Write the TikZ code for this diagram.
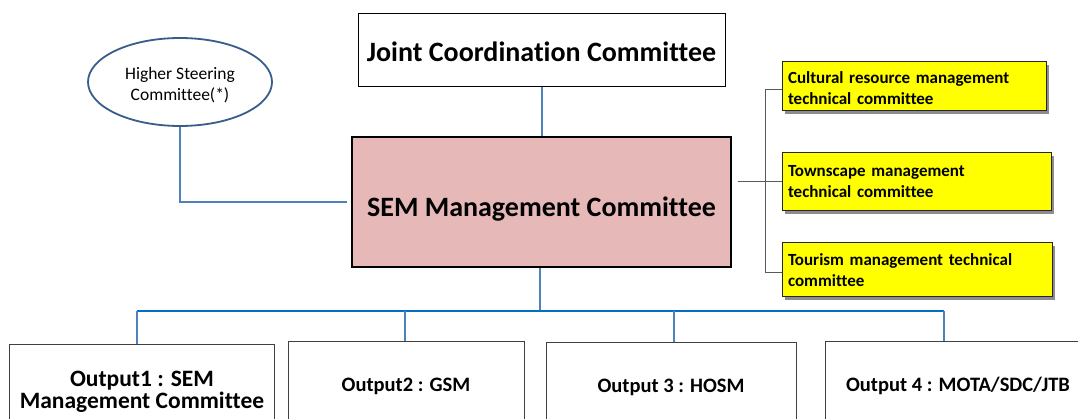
\documentclass[tikz,border=0pt]{standalone}
\usepackage{fontspec}
\setmainfont{Carlito}[Ligatures=CommonOff]
\usetikzlibrary{shapes.geometric}
\definecolor{semfill}{HTML}{E6B8B7}
\definecolor{lblue}{HTML}{4F81BD}
\definecolor{dblue}{HTML}{0070C0}
\definecolor{ellblue}{HTML}{385D8A}
\definecolor{ybox}{HTML}{FFFF00}
\tikzset{
  plainbox/.style={draw=black, line width=1pt, fill=white, rectangle, inner sep=0pt, font=\bfseries},
  outbox/.style={draw=black!75, line width=1pt, fill=white, rectangle, inner sep=0pt, align=center, font=\fontsize{20.5}{17}\selectfont\bfseries},
  yellowbox/.style={draw=black!85, line width=1pt, fill=ybox, rectangle, inner sep=0pt, align=left, font=\fontsize{17}{21}\selectfont\bfseries},
  yshadow/.style={fill=black!45},
  bline/.style={draw=lblue, line width=1.5pt},
  busline/.style={draw=dblue, line width=2pt},
  gline/.style={draw=black!65, line width=1pt},
}
\begin{document}
\begin{tikzpicture}[x=1pt,y=-1pt]
\clip (0,0) rectangle (1078,419);
\fill[white] (0,0) rectangle (1078,419);
% main boxes
\node[plainbox, minimum width=367pt, minimum height=73pt, text height=28pt, text depth=6pt, font=\fontsize{28}{30}\selectfont\bfseries] (jcc) at (541.5,50.5) {Joint Coordination Committee};
\node[plainbox, fill=semfill, line width=1.3pt, minimum width=379pt, minimum height=130pt, text height=36pt, text depth=6pt, font=\fontsize{28}{30}\selectfont\bfseries] (sem) at (541.5,202) {SEM Management Committee};
\node[ellipse, draw=ellblue, line width=1.8pt, fill=white, minimum width=184pt, minimum height=88pt, inner sep=0pt, align=center, font=\fontsize{17.5}{21}\selectfont] (hsc) at (180,82) {\rule{0pt}{19pt}Higher Steering\\Committee(*)};
% yellow boxes with shadows
\fill[yshadow] (785,65) rectangle (1049,114);
\fill[yshadow] (785,156) rectangle (1054,214);
\fill[yshadow] (785,246) rectangle (1055,300);
\node[yellowbox, minimum width=264pt, minimum height=49pt, text width=252pt] (y1) at (914,86.5) {\rule{0pt}{16pt}Cultural resource management\\technical committee};
\node[yellowbox, minimum width=269pt, minimum height=58pt, text width=257pt] (y2) at (916.5,182) {Townscape management\\technical committee};
\node[yellowbox, minimum width=270pt, minimum height=54pt, text width=258pt] (y3) at (917,270) {Tourism management technical\\committee};
% output boxes
\node[outbox, minimum width=265pt, minimum height=90pt, font=\fontsize{23.5}{16.5}\selectfont\bfseries] (o1) at (142,389) {\rule{0pt}{21pt}Output1 :  SEM\\Management Committee};
\node[outbox, minimum width=236pt, minimum height=90pt] (o2) at (406,386) {Output2 : GSM};
\node[outbox, minimum width=250pt, minimum height=90pt] (o3) at (671,387) {Output 3 : HOSM};
\node[outbox, minimum width=266pt, minimum height=90pt] (o4) at (958,386) {Output 4 :  MOTA/SDC/JTB};
% connectors
\draw[bline] ([xshift=0.5pt]jcc.south) -- ([xshift=0.5pt]sem.north);
\draw[bline] (hsc.south) |- ([xshift=-4pt]sem.west);
\draw[gline] ([xshift=6pt]sem.east |- y2.west) -- (y2.west);
\draw[gline] ([yshift=-3.5pt]y1.west) -- ++(-16,0) |- ([yshift=-3pt]y3.west);
\coordinate (bus) at (540,311);
\draw[bline] ([xshift=-1.5pt]sem.south) -- ([xshift=-1.5pt]sem.south |- bus);
\draw[busline] ([xshift=-5pt]o1.north |- bus) -- ([xshift=-14pt]o4.north |- bus);
\draw[bline] ([xshift=-5pt]o1.north |- bus) -- ([xshift=-5pt]o1.north);
\draw[bline] ([xshift=-1pt]o2.north |- bus) -- ([xshift=-1pt]o2.north);
\draw[bline] ([xshift=3pt]o3.north |- bus) -- ([xshift=3pt]o3.north);
\draw[bline] ([xshift=-14pt]o4.north |- bus) -- ([xshift=-14pt]o4.north);
\end{tikzpicture}
\end{document}
